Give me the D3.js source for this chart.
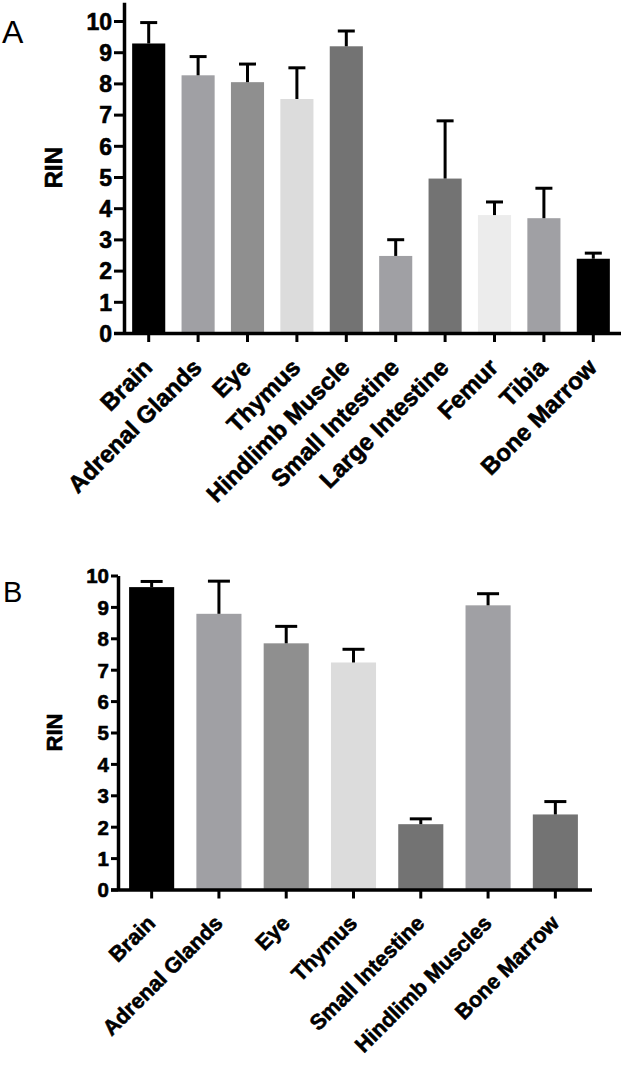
<!DOCTYPE html>
<html>
<head>
<meta charset="utf-8">
<script src="https://cdn.jsdelivr.net/npm/d3@7"></script>
<style>
  html, body { margin: 0; padding: 0; background: #fff; }
  svg { display: block; }
  text { font-family: "Liberation Sans", Arial, Helvetica, sans-serif; fill: #000; }
  text.heavy { stroke: #000; stroke-width: 0.6px; }
</style>
</head>
<body>
<svg id="chart" width="623" height="1065"></svg>
<script>
// ---- Data ----
const categoriesA = ["Brain", "Adrenal Glands", "Eye", "Thymus", "Hindlimb Muscle",
  "Small Intestine", "Large Intestine", "Femur", "Tibia", "Bone Marrow"];
const rinA = [9.28, 8.26, 8.04, 7.50, 9.19, 2.47, 4.95, 3.78, 3.68, 2.38];
const errA = [0.67, 0.60, 0.58, 1.00, 0.49, 0.52, 1.85, 0.42, 0.96, 0.18];
const fillsA = ["#000000", "#a0a0a4", "#8f8f8f", "#dcdcdc", "#737373",
  "#a0a0a4", "#737373", "#ececec", "#a0a0a4", "#000000"];

const categoriesB = ["Brain", "Adrenal Glands", "Eye", "Thymus",
  "Small Intestine", "Hindlimb Muscles", "Bone Marrow"];
const rinB = [9.63, 8.78, 7.84, 7.23, 2.08, 9.05, 2.39];
const errB = [0.18, 1.04, 0.54, 0.42, 0.17, 0.37, 0.41];
const fillsB = ["#000000", "#a0a0a4", "#8f8f8f", "#dcdcdc", "#737373", "#a0a0a4", "#737373"];

const yTicks = [0, 1, 2, 3, 4, 5, 6, 7, 8, 9, 10];

const svg = d3.select("#chart");

function drawPanel(o) {
  const g = svg.append("g");
  const x = d3.scaleBand().domain(o.cats).range([o.x0, o.x1])
    .paddingInner(0.33).paddingOuter(0.165);
  const y = d3.scaleLinear().domain([0, o.yMax]).range([o.y0, o.yTop]);

  // bars
  g.selectAll("rect.bar").data(o.cats).join("rect")
    .attr("class", "bar")
    .attr("x", d => x(d))
    .attr("width", x.bandwidth())
    .attr("y", (d, i) => y(o.vals[i]))
    .attr("height", (d, i) => y(0) - y(o.vals[i]))
    .attr("fill", (d, i) => o.fills[i]);

  // error bars (upper only)
  const eb = g.selectAll("g.err").data(o.cats).join("g").attr("class", "err");
  eb.append("line")
    .attr("x1", d => x(d) + x.bandwidth() / 2)
    .attr("x2", d => x(d) + x.bandwidth() / 2)
    .attr("y1", (d, i) => y(o.vals[i]))
    .attr("y2", (d, i) => y(o.vals[i] + o.errs[i]))
    .attr("stroke", "#000").attr("stroke-width", 3);
  eb.append("line")
    .attr("x1", d => x(d) + x.bandwidth() / 2 - o.cap / 2)
    .attr("x2", d => x(d) + x.bandwidth() / 2 + o.cap / 2)
    .attr("y1", (d, i) => y(o.vals[i] + o.errs[i]))
    .attr("y2", (d, i) => y(o.vals[i] + o.errs[i]))
    .attr("stroke", "#000").attr("stroke-width", 3);

  // y axis
  const ya = g.append("g").attr("transform", `translate(${o.x0},0)`)
    .call(d3.axisLeft(y).tickValues(yTicks).tickSize(o.yTick).tickPadding(2).tickSizeOuter(0));
  ya.attr("font-family", null);
  ya.select(".domain").attr("stroke", "#000").attr("stroke-width", 3.5);
  ya.selectAll(".tick line").attr("stroke", "#000").attr("stroke-width", 3);
  ya.selectAll(".tick text")
    .attr("class", "heavy")
    .style("font-size", o.tickFont + "px").style("font-weight", "bold")
    .attr("dy", "0.36em");

  // x axis
  const xa = g.append("g").attr("transform", `translate(0,${o.y0})`)
    .call(d3.axisBottom(x).tickSize(9).tickSizeOuter(0).tickFormat(""));
  xa.select(".domain").attr("d", `M${o.x0 - o.yTick},0.5H${o.xEnd}`)
    .attr("stroke", "#000").attr("stroke-width", 3.5);
  xa.selectAll(".tick line").attr("stroke", "#000").attr("stroke-width", 3);

  // rotated category labels
  g.selectAll("text.cat").data(o.cats).join("text")
    .attr("class", "cat heavy")
    .attr("text-anchor", "end")
    .attr("transform", d => `translate(${x(d) + x.bandwidth() / 2 + o.lblDx},${o.y0 + o.lblDy}) rotate(-45)`)
    .style("font-size", o.catFont + "px").style("font-weight", "bold")
    .text(d => d);

  // y title
  g.append("text")
    .attr("class", "heavy")
    .attr("transform", `translate(${o.titleX},${(o.y0 + o.yTop) / 2}) rotate(-90)`)
    .attr("text-anchor", "middle")
    .style("font-size", o.titleFont + "px").style("font-weight", "bold")
    .text("RIN");

  // panel letter
  g.append("text").attr("x", o.letterX).attr("y", o.letterY)
    .style("font-size", o.letterFont + "px")
    .text(o.letter);
}

drawPanel({
  cats: categoriesA, vals: rinA, errs: errA, fills: fillsA,
  x0: 124, x1: 618, xEnd: 621, y0: 333, yTop: 2.3, yMax: 10.6,
  yTick: 10, cap: 17, tickFont: 23, catFont: 24, titleFont: 24, titleX: 62,
  lblDx: 5, lblDy: 36, letter: "A", letterX: 2, letterY: 43, letterFont: 32
});

drawPanel({
  cats: categoriesB, vals: rinB, errs: errB, fills: fillsB,
  x0: 118, x1: 589, xEnd: 592, y0: 889.5, yTop: 575.5, yMax: 10,
  yTick: 7, cap: 22, tickFont: 20.5, catFont: 21.5, titleFont: 22, titleX: 62,
  lblDx: 5, lblDy: 35, letter: "B", letterX: 3, letterY: 602, letterFont: 29
});
</script>
</body>
</html>
